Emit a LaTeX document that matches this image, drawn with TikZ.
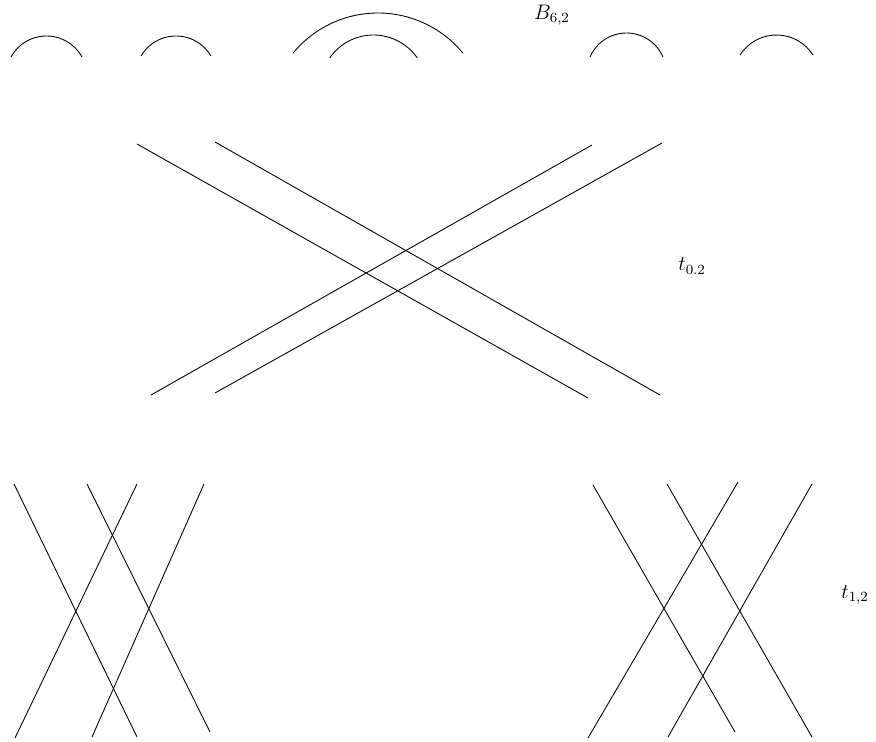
\documentclass[tikz,border=0pt]{standalone}
\usepackage{tikz}

\begin{document}
\begin{tikzpicture}[x=0.02cm, y=-0.02cm, line width=0.5pt,
  every node/.style={font=\large}]
  \useasboundingbox (0,0) rectangle (876,742);
  % caps on top
  \foreach \i/\cx/\cy/\r/\e in {1/46.5/76.5/40.5/29,2/176/76.6/40.6/30.5,
      3/378/123/110/39.5,4/373.5/88.3/53.3/34.9,5/626.5/72.75/39.75/23.3,
      6/776.5/78.3/43.3/32.5} {
    \coordinate (c\i) at (\cx,\cy);
    \draw (c\i) ++(180+\e:\r) arc[start angle=180+\e, end angle=360-\e, radius=\r];
  }
  \node (bl) at (552,15) {$B_{6,2}$};
  % middle crossing
  \foreach \j/\xa/\ya/\xb/\yb in {1/137/144/588/398,2/215/142/660/395,
      3/151/395/592/145,4/215/393/662/143} {
    \coordinate (m\j a) at (\xa,\ya);
    \coordinate (m\j b) at (\xb,\yb);
    \draw (m\j a) -- (m\j b);
  }
  \node (tm) at (692,266) {$t_{0.2}$};
  % lower crossings
  \foreach \j/\xa/\ya/\xb/\yb in {1/14/484/137/737,2/87/484/210/732,
      3/137/484/15/738,4/204/484/92/737,5/593/485/735/732,6/667/484/812/737,
      7/738/482/588/738,8/812/484/668/737} {
    \coordinate (l\j a) at (\xa,\ya);
    \coordinate (l\j b) at (\xb,\yb);
    \draw (l\j a) -- (l\j b);
  }
  \node (tl) at (855,595) {$t_{1,2}$};
\end{tikzpicture}
\end{document}
